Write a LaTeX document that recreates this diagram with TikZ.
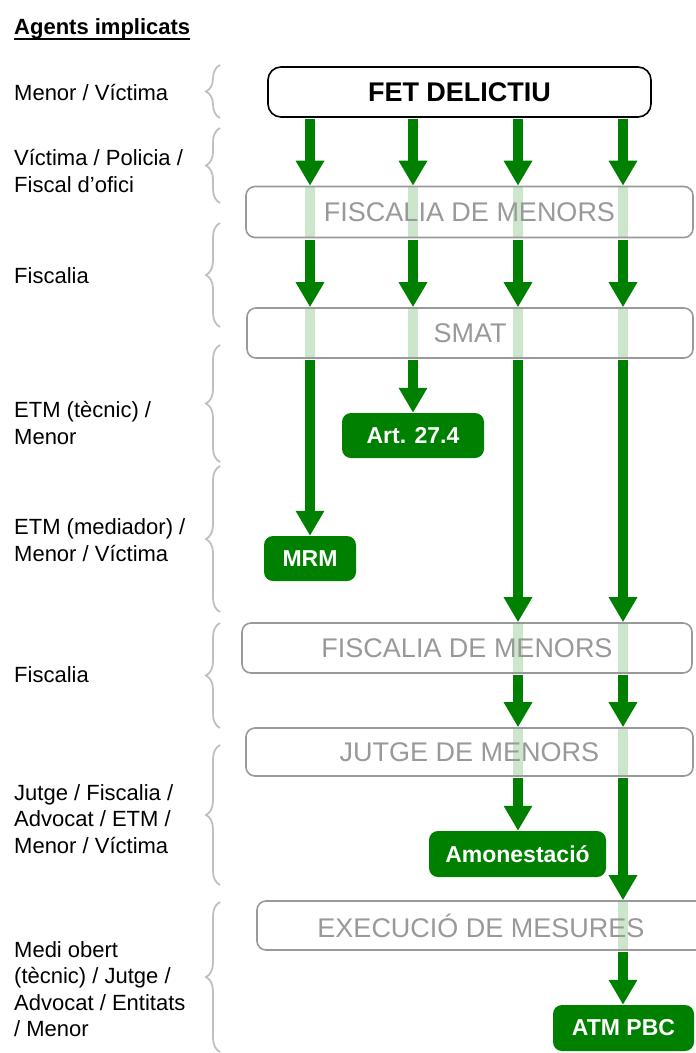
\documentclass[tikz,border=0pt]{standalone}
\usepackage{fontspec}
\setmainfont{Liberation Sans}
\usetikzlibrary{arrows.meta,calc,decorations.pathreplacing}
\definecolor{dgreen}{RGB}{0,128,0}
\definecolor{pgreen}{RGB}{204,230,204}
\definecolor{boxgray}{RGB}{153,153,153}
\definecolor{bracegray}{RGB}{192,192,192}
\pgfdeclarelayer{bg}
\pgfsetlayers{bg,main}
\tikzset{
  lbl/.style={anchor=west, align=left, inner sep=0pt, font=\fontsize{22}{26.5}\selectfont},
  fetbox/.style={draw=black, line width=1.6pt, rounded corners=13pt, inner sep=0pt,
    font=\fontsize{27}{30}\selectfont\bfseries},
  graybox/.style={draw=boxgray, line width=1.6pt, rounded corners=9pt, inner sep=0pt,
    text=boxgray, font=\fontsize{27}{30}\selectfont},
  greenbox/.style={fill=dgreen, rounded corners=9pt, inner sep=0pt, text=white,
    font=\fontsize{23}{26}\selectfont\bfseries},
  garrow/.style={draw=dgreen, line width=10pt, -{Triangle[width=27pt,length=25pt]}},
  gband/.style={fill=pgreen},
  gbrace/.style={draw=bracegray, line width=1.8pt, decorate,
    decoration={brace, amplitude=14pt}},
}
\begin{document}
\begin{tikzpicture}[x=1pt,y=-1pt]
\useasboundingbox (0,0) rectangle (696,1053);
\clip (0,0) rectangle (696,1053);

% header
\node[anchor=base west, inner sep=0pt, font=\fontsize{22}{26}\selectfont\bfseries] (hdr) at (14,34) {Agents implicats};
\draw[line width=2pt] ($(hdr.base west)+(0,5)$) -- ($(hdr.base east)+(0,5)$);

% left labels
\node[lbl] (l1) at (14,93) {Menor / Víctima};
\node[lbl] (l2) at (14,171) {Víctima / Policia /\\Fiscal d'ofici};
\node[lbl] (l3) at (14,276) {Fiscalia};
\node[lbl] (l4) at (14,423) {ETM (tècnic) /\\Menor};
\node[lbl] (l5) at (14,540) {ETM (mediador) /\\Menor / Víctima};
\node[lbl] (l6) at (14,675) {Fiscalia};
\node[lbl] (l7) at (14,819) {Jutge / Fiscalia /\\Advocat / ETM /\\Menor / Víctima};
\node[lbl] (l8) at (14,989) {Medi obert\\(tècnic) / Jutge /\\Advocat / Entitats\\/ Menor};

% braces
\foreach \t/\b in {65/118, 128/203, 223/327, 345/462, 466/612, 623/728, 745/885, 902/1052}
  \draw[gbrace] (220,\b) -- (220,\t);

% boxes
\node[fetbox, minimum width=383pt, minimum height=50pt] (fet) at (459.5,92) {FET DELICTIU};
\node[graybox, minimum width=447pt, minimum height=51pt] (f1) at (469.5,212) {FISCALIA DE MENORS};
\node[graybox, minimum width=446pt, minimum height=50pt] (smat) at (470,333) {SMAT};
\node[greenbox, minimum width=142pt, minimum height=45pt] (art) at (413,435.5) {Art. 27.4};
\node[greenbox, minimum width=92pt, minimum height=45pt] (mrm) at (310,558.5) {MRM};
\node[graybox, minimum width=450pt, minimum height=50pt] (f2) at (467,648) {FISCALIA DE MENORS};
\node[graybox, minimum width=447pt, minimum height=48pt] (jut) at (469.5,752) {JUTGE DE MENORS};
\node[greenbox, minimum width=177pt, minimum height=46pt] (amo) at (517.5,854) {Amonestació};
\node[graybox, minimum width=448pt, minimum height=49pt] (exe) at (481,925.5) {EXECUCIÓ DE MESURES};
\node[greenbox, minimum width=141pt, minimum height=46pt] (atm) at (623.5,1028) {ATM PBC};

% columns
\coordinate (c1) at (310,0);
\coordinate (c2) at (413,0);
\coordinate (c3) at (518,0);
\coordinate (c4) at (623,0);

% pale bands through the gray boxes
\begin{pgfonlayer}{bg}
\foreach \c/\n in {c1/f1, c2/f1, c3/f1, c4/f1, c1/smat, c2/smat, c3/smat, c4/smat,
                   c3/f2, c4/f2, c3/jut, c4/jut, c4/exe}
  \fill[gband] ($(\n.north -| \c)+(-5,0)$) rectangle ($(\n.south -| \c)+(5,0)$);
\end{pgfonlayer}

% arrows
\foreach \c/\a/\b in {c1/fet/f1, c1/f1/smat, c1/smat/mrm,
                      c2/fet/f1, c2/f1/smat, c2/smat/art,
                      c3/fet/f1, c3/f1/smat, c3/smat/f2, c3/f2/jut, c3/jut/amo,
                      c4/fet/f1, c4/f1/smat, c4/smat/f2, c4/f2/jut, c4/jut/exe, c4/exe/atm}
  \draw[garrow] ($(\a.south -| \c)+(0,1.5)$) -- (\b.north -| \c);
\end{tikzpicture}
\end{document}
